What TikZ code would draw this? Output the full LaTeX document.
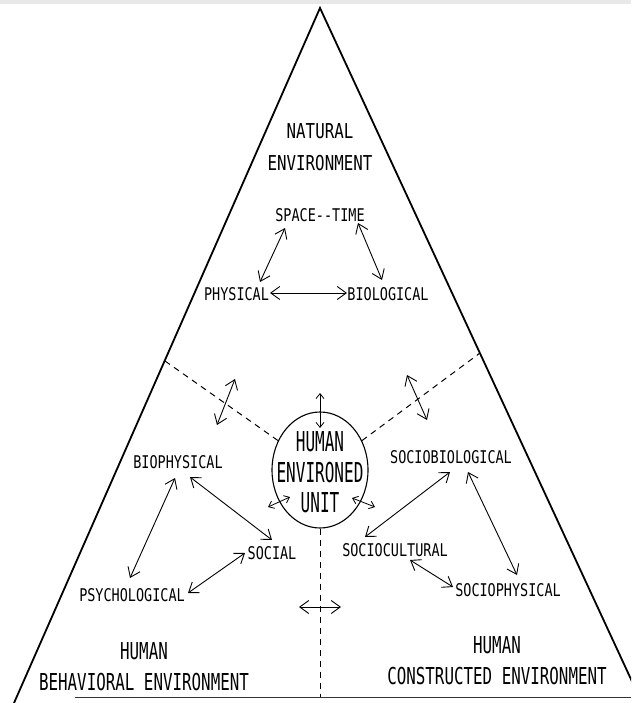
\documentclass[tikz,border=0pt]{standalone}
\usepackage{fontspec}
\usetikzlibrary{arrows.meta,shapes.geometric}
% condensed typewriter-like lettering
\newfontfamily\labfont[FakeStretch=0.77]{DejaVu Sans Mono}
\newfontfamily\basefont[FakeStretch=0.68]{DejaVu Sans Mono}
\newfontfamily\unitfont[FakeStretch=0.585]{DejaVu Sans Mono}
\begin{document}
\begin{tikzpicture}[x=1pt,y=-1pt,
  tri/.style={line width=1.8pt},
  sep/.style={dash pattern=on 6pt off 5pt, line width=1pt},
  link/.style={{Straight Barb[length=9pt,width=13pt]}-{Straight Barb[length=9pt,width=13pt]}, line width=0.9pt},
  tiny/.style={{Straight Barb[length=5pt,width=8pt]}-{Straight Barb[length=5pt,width=8pt]}, line width=0.8pt},
  lab/.style={inner sep=0pt, font=\labfont\fontsize{17.5pt}{20pt}\selectfont},
  title/.style={inner sep=0pt, align=center, font=\labfont\fontsize{20.5pt}{32pt}\selectfont},
  basetitle/.style={inner sep=0pt, align=center, font=\basefont\fontsize{23.3pt}{31pt}\selectfont},
  unittext/.style={inner sep=0pt, align=center, font=\unitfont\fontsize{27.4pt}{30.5pt}\selectfont}]
\useasboundingbox (0,0) rectangle (631,703);
\clip (0,0) rectangle (631,703);

% faint strip along the top edge
\fill[gray!18] (0,0) rectangle (631,4);

% the triangle
\coordinate (apex) at (320,8);
\coordinate (bl) at (14,703);
\coordinate (br) at (642,703);
\coordinate (b0) at (75,697);
\coordinate (b1) at (631,697);
\draw[tri,line join=miter] (bl) -- (apex) -- (br);
\draw[line width=1pt,black!80] (b0) -- (b1);

% central unit
\node[draw, ellipse, line width=1.1pt, minimum width=96pt, minimum height=116pt, inner sep=0pt] (heu) at (320,470) {};
\node[unittext] (heut) at (320,472.5) {HUMAN\\ENVIRONED\\UNIT};

% dividing dashed lines
\coordinate (dl) at (165,361);
\coordinate (dr) at (480,353);
\coordinate (db) at (320,697);
\draw[sep] (dl) -- (heu.145);
\draw[sep] (heu.35) -- (dr);
\draw[sep] (heu.south) -- (db);

% natural environment
\node[title] (nat) at (320,147) {NATURAL\\ENVIRONMENT};
\node[lab] (st) at (320,215) {SPACE{-}{-}TIME};
\node[lab] (phy) at (236.5,294) {PHYSICAL};
\node[lab] (bio) at (388,294) {BIOLOGICAL};

\coordinate (st1) at (285,228);  \coordinate (phy1) at (260,282);
\coordinate (st2) at (358,223);  \coordinate (bio1) at (382,280);
\coordinate (phy2) at (270,293); \coordinate (bio2) at (347,293);
\draw[link] (st1) -- (phy1);
\draw[link] (st2) -- (bio1);
\draw[link] (phy2) -- (bio2);

% human behavioral environment
\node[lab] (bph) at (178,462) {BIOPHYSICAL};
\node[lab] (soc) at (272,553) {SOCIAL};
\node[lab] (psy) at (132,595) {PSYCHOLOGICAL};
\node[basetitle] (hbe) at (144,667) {HUMAN\\BEHAVIORAL ENVIRONMENT};

\coordinate (bph1) at (175,478); \coordinate (psy1) at (130,578);
\coordinate (bph2) at (190,477); \coordinate (soc1) at (272,540);
\coordinate (psy2) at (188,593); \coordinate (soc2) at (245,553);
\draw[link] (bph1) -- (psy1);
\draw[link] (bph2) -- (soc1);
\draw[link] (psy2) -- (soc2);

% human constructed environment
\node[lab] (sbi) at (451,457) {SOCIOBIOLOGICAL};
\node[lab] (scu) at (395,550) {SOCIOCULTURAL};
\node[lab] (sph) at (508,590) {SOCIOPHYSICAL};
\node[basetitle] (hce) at (497,661) {HUMAN\\CONSTRUCTED ENVIRONMENT};

\coordinate (sbi1) at (450,472); \coordinate (scu1) at (365,537);
\coordinate (sbi2) at (468,472); \coordinate (sph1) at (517,575);
\coordinate (scu2) at (410,560); \coordinate (sph2) at (453,587);
\draw[link] (sbi1) -- (scu1);
\draw[link] (sbi2) -- (sph1);
\draw[link] (scu2) -- (sph2);

% exchanges across the boundaries
\coordinate (xl1) at (217,425); \coordinate (xl2) at (235,379);
\coordinate (xr1) at (407,375); \coordinate (xr2) at (427,420);
\coordinate (xt1) at (320,393); \coordinate (xt2) at (320,428);
\coordinate (xb1) at (299,607); \coordinate (xb2) at (341,607);
\draw[link] (xl1) -- (xl2);
\draw[link] (xr1) -- (xr2);
\draw[tiny] (xt1) -- (xt2);
\draw[link] (xb1) -- (xb2);

% small exchanges at the unit
\coordinate (ul1) at (268,507); \coordinate (ul2) at (290,497);
\coordinate (ur1) at (352,498); \coordinate (ur2) at (375,507);
\draw[tiny] (ul1) -- (ul2);
\draw[tiny] (ur1) -- (ur2);
\end{tikzpicture}
\end{document}
